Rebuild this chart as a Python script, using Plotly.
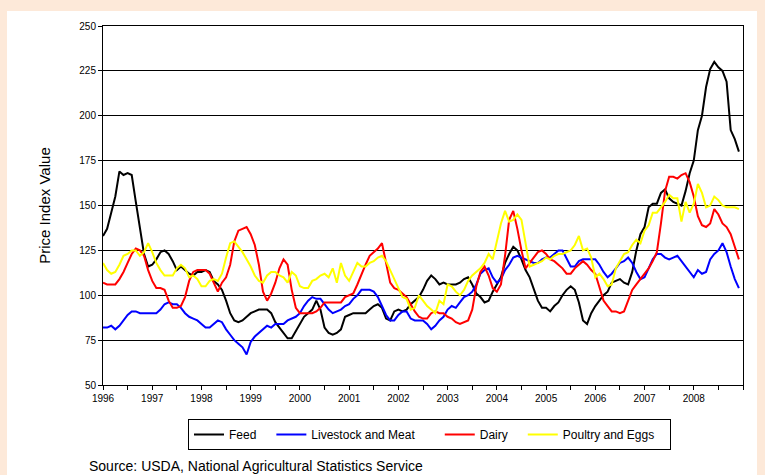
import plotly.graph_objects as go

# Monthly price index values, Jan 1996 - Dec 2008
start_year = 1996
years = list(range(1996, 2009))

feed = [133, 137, 146, 155, 169, 167, 168, 167, 152, 137, 123, 116,
        117, 120, 124, 125, 123, 119, 114, 116, 114, 112, 111, 113,
        113, 114, 113, 108, 106, 103, 97, 90, 86, 85, 86, 88,
        90, 91, 92, 92, 92, 90, 85, 82, 79, 76, 76, 80,
        84, 88, 90, 92, 97, 92, 82, 79, 78, 79, 81, 88,
        89, 90, 90, 90, 90, 92, 94, 95, 93, 87, 86, 91,
        92, 91, 92, 95, 97, 99, 103, 108, 111, 109, 106, 107,
        106, 106, 106, 107, 109, 110, 106, 101, 99, 96, 97, 102,
        106, 110, 118, 123, 127, 125, 120, 114, 110, 103, 97, 93,
        93, 91, 94, 96, 100, 103, 105, 103, 96, 86, 84, 90,
        94, 97, 100, 102, 107, 108, 109, 107, 106, 113, 125, 134,
        138, 149, 151, 151, 157, 159, 154, 152, 151, 150, 158, 168,
        175, 192, 200, 216, 226, 230, 227, 225, 219, 192, 187, 180]

livestock = [82, 82, 83, 81, 83, 86, 89, 91, 91, 90, 90, 90,
             90, 90, 92, 95, 96, 95, 95, 93, 90, 88, 87, 86,
             84, 82, 82, 84, 86, 85, 81, 78, 75, 73, 71, 67,
             74, 77, 79, 81, 83, 82, 84, 84, 84, 86, 87, 88,
             90, 94, 97, 99, 98, 98, 95, 92, 90, 91, 92, 94,
             95, 98, 100, 103, 103, 103, 102, 99, 94, 89, 86, 86,
             89, 91, 91, 87, 86, 86, 86, 84, 81, 83, 86, 88,
             92, 94, 93, 96, 99, 100, 102, 106, 112, 114, 115, 110,
             107, 109, 114, 117, 121, 122, 121, 120, 119, 118, 118, 120,
             121, 121, 123, 125, 125, 120, 116, 116, 119, 120, 120, 120,
             120, 117, 113, 110, 112, 115, 118, 119, 121, 118, 113, 109,
             110, 115, 120, 123, 123, 121, 120, 121, 122, 119, 116, 113,
             110, 114, 112, 113, 120, 123, 125, 129, 124, 116, 109, 104]

dairy = [107, 106, 106, 106, 109, 113, 118, 123, 126, 125, 122, 114,
         108, 104, 104, 103, 97, 93, 93, 94, 99, 108, 113, 114,
         114, 114, 112, 107, 102, 107, 110, 117, 130, 136, 137, 138,
         134, 128, 117, 102, 97, 101, 107, 115, 120, 117, 103, 93,
         90, 90, 90, 90, 91, 93, 96, 96, 96, 96, 96, 99,
         100, 101, 106, 112, 117, 122, 124, 126, 129, 117, 107, 104,
         103, 101, 99, 95, 91, 88, 87, 87, 90, 91, 90, 90,
         88, 87, 85, 84, 85, 86, 92, 105, 113, 116, 111, 104,
         102, 106, 122, 142, 147, 137, 125, 115, 118, 121, 124, 125,
         123, 120, 119, 117, 115, 112, 112, 115, 117, 119, 117, 114,
         112, 104, 97, 94, 91, 91, 90, 91, 97, 103, 106, 109,
         112, 115, 119, 124, 140, 158, 166, 166, 165, 167, 168, 163,
         155, 144, 139, 138, 140, 148, 145, 140, 138, 134, 127, 120]

poultry = [118, 114, 112, 113, 117, 122, 123, 125, 125, 122, 124, 129,
           124, 118, 114, 111, 111, 111, 115, 117, 115, 110, 111, 109,
           105, 105, 108, 109, 108, 112, 121, 129, 130, 127, 124, 120,
           116, 111, 108, 107, 111, 113, 113, 111, 110, 107, 113, 111,
           105, 104, 104, 108, 109, 111, 112, 110, 115, 107, 118, 111,
           108, 113, 118, 116, 116, 118, 119, 121, 122, 119, 114, 109,
           105, 99, 98, 92, 93, 100, 97, 94, 92, 90, 97, 95,
           106, 105, 102, 100, 103, 108, 111, 113, 115, 118, 123, 120,
           131, 140, 147, 141, 142, 145, 142, 129, 116, 117, 118, 119,
           121, 120, 122, 123, 123, 124, 125, 128, 133, 125, 126, 121,
           110, 112, 109, 105, 106, 115, 119, 123, 124, 128, 131, 129,
           136, 139, 146, 146, 149, 152, 156, 154, 154, 141, 152, 146,
           151, 162, 157, 149, 150, 155, 153, 150, 149, 149, 149, 148]

series_names = ["Feed", "Livestock and Meat", "Dairy", "Poultry and Eggs"]
series_colors = ["#000000", "#0000FF", "#FF0000", "#FFFF00"]
# trailing non-breaking spaces widen legend entries to the reference spacing
legend_pad = [3, 6, 3, 3]
y_title = "Price Index Value"
source_text = "Source: USDA, National Agricultural Statistics Service"

x_vals = [start_year + i / 12 for i in range(len(feed))]

W, H = 765, 475
L, R, T, B = 103, 743, 26, 385


def pxx(p):
    return (p - L) / (R - L)


def pyy(p):
    return (B - p) / (B - T)


fig = go.Figure()
for name, vals, color, pad in zip(series_names, [feed, livestock, dairy, poultry], series_colors, legend_pad):
    fig.add_trace(go.Scatter(x=x_vals, y=vals, mode="lines", name=name + "\u00a0" * pad,
                             line=dict(color=color, width=2)))

tickvals = [start_year + k * 0.5 for k in range(0, 27)]
ticktext = [str(int(v)) if (v == int(v) and int(v) in years) else "" for v in tickvals]

tick_font = dict(family="Liberation Sans Narrow, Arial Narrow, Liberation Sans, Arial", size=10, color="#000000")

fig.update_layout(
    width=W, height=H,
    margin=dict(l=L, r=W - R, t=T, b=H - B, pad=0),
    paper_bgcolor="#FDE9D9",
    plot_bgcolor="#C0C0C0",
    font=dict(family="Liberation Sans, Arial, sans-serif", color="#000000"),
    showlegend=True,
    legend=dict(orientation="h", x=pxx(188), xanchor="left", y=pyy(419), yanchor="top",
                bgcolor="#FFFFFF", bordercolor="#000000", borderwidth=1,
                font=dict(size=12, family="Liberation Sans, Arial, sans-serif", color="#000000"),
                itemwidth=30, tracegroupgap=0),
    xaxis=dict(range=[1996, 2009], tickmode="array", tickvals=tickvals, ticktext=ticktext,
               showgrid=False, zeroline=False, showline=True, linecolor="#000000", linewidth=1,
               mirror=True, ticks="outside", ticklen=4, tickcolor="#000000", tickfont=tick_font),
    yaxis=dict(range=[50, 250], dtick=25, tick0=50, showgrid=True, gridcolor="#000000", gridwidth=1,
               zeroline=False, showline=True, linecolor="#000000", linewidth=1, mirror=True,
               ticks="outside", ticklen=4, tickcolor="#000000", tickfont=tick_font,
               title=dict(text=y_title, font=dict(size=15, family="Liberation Sans, Arial, sans-serif"),
                          standoff=25)),
    shapes=[dict(type="rect", xref="paper", yref="paper", layer="below",
                 x0=pxx(7), x1=pxx(757), y0=pyy(480), y1=pyy(11),
                 fillcolor="#FFFFFF", line=dict(width=0))],
    annotations=[dict(text=source_text, xref="paper", yref="paper", x=pxx(87), y=pyy(466),
                      xanchor="left", yanchor="middle", showarrow=False,
                      font=dict(size=14, family="Liberation Sans, Arial, sans-serif", color="#000000"))],
)

fig.write_html("out.html", config={"displayModeBar": False},
               post_script="document.body.style.margin='0px';document.body.style.padding='0px';")
